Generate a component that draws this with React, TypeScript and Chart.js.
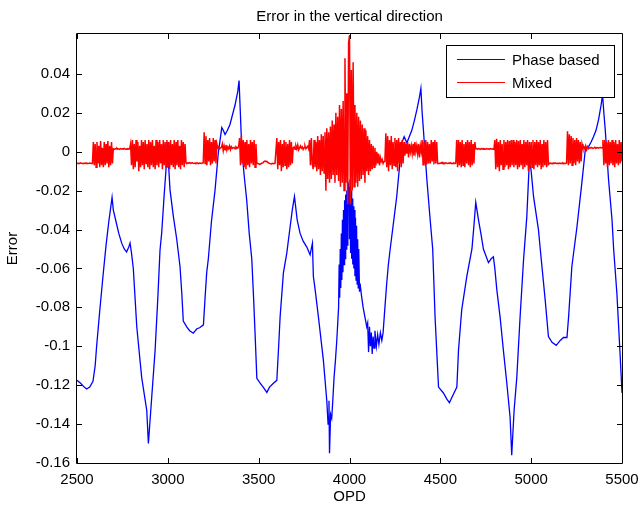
import React, { useEffect, useRef } from "react";
import { Chart, registerables } from "chart.js";

Chart.register(...registerables);

const chartTitle = "Error in the vertical direction";
const xTitle = "OPD";
const yTitle = "Error";
const seriesNames = ["Phase based", "Mixed"];
const seriesColors = ["#0000ff", "#ff0000"];

const xTickValues = [2500, 3000, 3500, 4000, 4500, 5000, 5500];
const yTickValues = [-0.16, -0.14, -0.12, -0.1, -0.08, -0.06, -0.04, -0.02, 0, 0.02, 0.04];
const xMin = 2500;
const xMax = 5500;
const yMin = -0.16;
const yMax = 0.0605;

// Phase based: [OPD, error]
const phaseBased: [number, number][] = [
  [2500, -0.1175], [2520, -0.119], [2540, -0.121], [2553, -0.122], [2570, -0.121], [2588, -0.118],
  [2600, -0.11], [2608, -0.1], [2625, -0.082], [2644, -0.063], [2660, -0.048], [2675, -0.036],
  [2693, -0.0235], [2700, -0.03], [2715, -0.036], [2730, -0.042], [2746, -0.047], [2760, -0.05],
  [2773, -0.0515], [2785, -0.049], [2792, -0.047], [2800, -0.052], [2810, -0.06], [2829, -0.09],
  [2856, -0.116], [2884, -0.133], [2893, -0.15], [2906, -0.133], [2930, -0.102], [2945, -0.075],
  [2957, -0.0505], [2966, -0.042], [2980, -0.022], [2990, -0.009], [2996, 0.005], [3003, -0.005],
  [3012, -0.0196], [3030, -0.033], [3049, -0.045], [3067, -0.059], [3077, -0.073], [3085, -0.087],
  [3104, -0.09], [3120, -0.092], [3140, -0.0933], [3160, -0.091], [3175, -0.0905], [3196, -0.089],
  [3205, -0.075], [3214, -0.062], [3223, -0.055], [3240, -0.036], [3260, -0.0196], [3278, -0.0005],
  [3297, 0.0124], [3305, 0.011], [3315, 0.0088], [3328, 0.011], [3342, 0.014], [3356, 0.019],
  [3370, 0.024], [3385, 0.031], [3392, 0.0366], [3400, 0.018], [3407, 0.001], [3420, -0.012],
  [3434, -0.0247], [3448, -0.042], [3462, -0.055], [3472, -0.075], [3480, -0.093], [3490, -0.1165],
  [3508, -0.119], [3525, -0.121], [3545, -0.1237], [3560, -0.121], [3581, -0.119], [3600, -0.1175],
  [3610, -0.1], [3618, -0.085], [3636, -0.0624], [3655, -0.052], [3673, -0.0387], [3685, -0.03],
  [3697, -0.023], [3712, -0.035], [3728, -0.042], [3745, -0.046], [3765, -0.049], [3783, -0.053],
  [3796, -0.047], [3801, -0.064], [3811, -0.071], [3829, -0.085], [3856, -0.107], [3875, -0.128],
  [3882, -0.14], [3887, -0.128], [3890, -0.155], [3896, -0.135], [3902, -0.137], [3908, -0.128],
  [3915, -0.116], [3922, -0.108], [3930, -0.097], [3940, -0.08], [3943, -0.058], [3946, -0.075],
  [3949, -0.05], [3952, -0.07], [3955, -0.042], [3958, -0.066], [3961, -0.035], [3964, -0.062],
  [3967, -0.03], [3970, -0.058], [3973, -0.025], [3976, -0.055], [3979, -0.022], [3982, -0.05],
  [3985, -0.02], [3988, -0.048], [3991, -0.018], [3997, -0.016], [4000, -0.045], [4003, -0.018],
  [4006, -0.052], [4009, -0.02], [4012, -0.055], [4015, -0.024], [4018, -0.058], [4021, -0.028],
  [4024, -0.06], [4027, -0.03], [4030, -0.064], [4033, -0.034], [4036, -0.066], [4039, -0.038],
  [4042, -0.068], [4045, -0.045], [4048, -0.07], [4051, -0.05], [4055, -0.072], [4058, -0.0677],
  [4066, -0.074], [4075, -0.08], [4085, -0.085], [4095, -0.09], [4100, -0.088], [4105, -0.103],
  [4110, -0.09], [4115, -0.1], [4120, -0.093], [4125, -0.104], [4130, -0.095], [4135, -0.101],
  [4140, -0.092], [4148, -0.1], [4155, -0.094], [4162, -0.099], [4170, -0.093], [4178, -0.097],
  [4185, -0.093], [4195, -0.08], [4205, -0.0675], [4214, -0.058], [4224, -0.05], [4242, -0.0366],
  [4260, -0.023], [4275, -0.008], [4288, 0.0046], [4301, 0.0077], [4316, 0.0046], [4330, 0.008],
  [4343, 0.011], [4357, 0.016], [4371, 0.0216], [4385, 0.028], [4393, 0.0325], [4400, 0.02],
  [4407, 0.011], [4426, -0.0144], [4444, -0.035], [4458, -0.05], [4471, -0.085], [4490, -0.121],
  [4517, -0.124], [4535, -0.127], [4550, -0.129], [4570, -0.125], [4591, -0.121], [4600, -0.102],
  [4618, -0.081], [4646, -0.064], [4674, -0.05], [4685, -0.038], [4695, -0.026], [4710, -0.035],
  [4725, -0.043], [4737, -0.05], [4765, -0.057], [4780, -0.055], [4792, -0.054], [4800, -0.06],
  [4811, -0.071], [4829, -0.085], [4847, -0.102], [4866, -0.119], [4884, -0.1365], [4893, -0.156],
  [4906, -0.133], [4921, -0.116], [4939, -0.085], [4958, -0.0557], [4976, -0.0335], [4985, -0.015],
  [4991, -0.003], [5000, -0.01], [5013, -0.023], [5040, -0.04], [5050, -0.05], [5077, -0.076],
  [5095, -0.095], [5115, -0.098], [5138, -0.0995], [5160, -0.097], [5178, -0.0955], [5197, -0.0955],
  [5206, -0.085], [5224, -0.059], [5252, -0.0387], [5279, -0.016], [5298, 0.001], [5316, 0.0026],
  [5330, 0.005], [5343, 0.0077], [5357, 0.011], [5371, 0.0165], [5385, 0.024], [5393, 0.0294],
  [5400, 0.02], [5408, 0.011], [5426, -0.0144], [5445, -0.035], [5454, -0.05], [5472, -0.073],
  [5490, -0.105], [5500, -0.124],
];

// Mixed: error in thousandths, sampled every 5 OPD from 2500 to 5500 (one row = 100 OPD)
const mixedStartOpd = 2500;
const mixedStepOpd = 5;
const mixedErrMilli = [
  -5.8, -6, -5.9, -6, -5.7, -6, -6.1, -5.9, -6, -5.8, -6, -5.9, -6.1, -6, -5.8, -5.9, -6, -6, 5, -7,
  4, -8, 5, -6, 3, -8, 5.5, -7, 2, -8, 5, -7, 4, -6, 5.5, -8, 3, -7, 5, -6,
  1.5, 1.2, 1.6, 1.4, 1.8, 1.3, 1.5, 1.2, 1.6, 1.4, 1.5, 1.3, 1.7, 1.4, 1.2, 1.5, 1.6, 1.3, 1.5, 4,
  -7, 6, -9, 4, -8, 6, -5, 5, -10, 3, -8, 6, -7, 5, -9, 6, -6, 4, -8, 6,
  -9, 5, -7, 6, -8, 3, -9, 6, -7, 5, -8, 6, -6, 4, -9, 6, -7, 5, -8, 6,
  -8, 5, -9, 6, -7, 4, -8, 6, -9, 5, -7, 6, -8, 3, -9, 6, -7, 5, -8, 4,
  -5.8, -6, -5.7, -5.9, -5.6, -6, -5.8, -5.7, -5.9, -6, -5.8, -6, -5.7, -5.9, -6.1, -5.8, -5.9, -6, -5.8, -5.7,
  10, -6, 8, -7, 6, -5, 7, -7, 5, -6, 7, -5, 6, -6, 4, 2, 2.5, 1.5, 2, 2.2,
  4, 0.5, 3, 1, 3.5, 0.8, 2.5, 1.5, 3, 1, 2.5, 1.8, 2, 2.2, 1.5, 2.5, 2, 1.8, 3, 7,
  -7, 8, -6, 6, -8, 5, -9, 6, -7, 4, -8, 6, -6, 5, -7, 6, -8, 4, -6, -6,
  -6.2, -6.5, -6.3, -6, -5.8, -5.6, -5, -4.8, -5, -4.9, -5.5, -5.8, -6, -6.2, -6.3, -6, -6.2, -6.1, -6, -6,
  7, -9, 5, -7, 6, -10, 4, -8, 6, -7, 5, -9, 4, -8, 6, -7, 5, -6, 2, 2.5,
  1.2, 3, 1.5, 3.5, 1, 2, 3, 1.8, 2.5, 1.2, 2, 3, 1.5, 2.2, 2.8, 1.5, 6, -7, 7, -6,
  -9, 6, -8, 5, -10, 8, -9, 6, -12, 9, -10, 8, -11, 10, -20, 12, -14, 10, -16, 13,
  -14, 16, -12, 14, -16, 20, -12, 18, -15, 24, -18, 22, -16, 26, -20, 48, -16, 30, -27, 56,
  60, -27, 42, -20, 46, -18, 24, -16, 20, -18, 18, -15, 16, -14, 14, -12, 12, -16, 11, -10,
  8, -12, 6, -10, 4, -9, 3, -8, 2, -7, 0, -6, -1, -7, -3, -5, -4, -6, -5, -4.5,
  9.5, -8, 8, -10, 6, -7, 8, -9, 5, -7, 7, -8, 6, -10, 7, -6, 5, -8, 6, -6,
  5, -2, 4, -1, 5, -3, 4, 0, 3, -1, 4, -2, 5, 0, 3, -1, 4, -3, 3, 0,
  6, -6.7, 5, -6, 6, -6.5, 5, -6, 4, -6, 6, -5, 5, -6.5, 6, -6, 5, -6, -6, -6,
  -5.8, -6, -5.5, -6.2, -5.8, -6, -5.7, -5.9, -6, -5.8, -6, -5.7, -6.1, -5.9, -6, -5.8, -6, -5.9, 6, -8,
  6, -7, 5, -8, 6, -7, 4, -8, 5, -6, 6, -7, 5, -8, 6, -7, 4, -6, 5, 1.5,
  1.5, 1.3, 1.6, 1.4, 1.2, 1.5, 1.6, 1.3, 1.5, 1.4, 1.3, 1.6, 1.4, 1.5, 1.2, 1.6, 1.4, 1.5, 1.3, 1.4,
  6, -9, 6.7, -8, 5, -10, 6, -7, 4, -9, 6, -8, 5, -7, 6, -9, 5.5, -8, 6, -7,
  6, -8, 5, -7, 6, -9, 5.5, -8, 6, -7, 4, -9, 6, -8, 5, -7, 6, -10, 5, -8,
  5, -8, 6, -9, 5, -7, 6, -8, 5, -7, 6, -9, 4, -8, 6, -7, 5, -8, 6, -6.5,
  -6, -5.8, -6.1, -5.9, -6, -5.7, -6, -5.8, -6, -5.9, -6.1, -5.8, -6, -5.9, -6, -5.8, -6.1, -5.9, -6, -5.8,
  10.5, -7, 9, -6, 8, -7, 7, -6, 6, -7, 7, -5, 6, -6, 5, -5, 4, 2, 2.5, 1.5,
  3, 1, 2.5, 1.5, 2, 1.8, 2.2, 2, 1.8, 2, 2.3, 1.7, 2, 2.1, 1.8, 2, 2.2, 1.9, 2, 6,
  -7, 6, -6, 5, -8, 6, -7, 5, -6, 6, -7, 5, -8, 6, -6, 4, -7, 6, -6, 5,
  -5,
];

const FONT = '"Liberation Sans", Arial, Helvetica, sans-serif';
const FONT_SIZE = 15;

const frameAndLegend = {
  id: "frameAndLegend",
  afterDatasetsDraw(chart: any) {
    const { ctx, chartArea } = chart;
    const { left, right, top, bottom } = chartArea;
    const xs = chart.scales.x;
    const ys = chart.scales.y;
    ctx.save();
    ctx.strokeStyle = "#000";
    ctx.lineWidth = 1;
    ctx.beginPath();
    ctx.rect(Math.round(left) - 0.5, Math.round(top) - 0.5, Math.round(right - left) + 1, Math.round(bottom - top) + 1);
    ctx.stroke();
    const tl = 5;
    ctx.beginPath();
    xs.ticks.forEach((t: any) => {
      const px = Math.round(xs.getPixelForValue(t.value)) + 0.5;
      ctx.moveTo(px, bottom);
      ctx.lineTo(px, bottom - tl);
      ctx.moveTo(px, top);
      ctx.lineTo(px, top + tl);
    });
    ys.ticks.forEach((t: any) => {
      const py = Math.round(ys.getPixelForValue(t.value)) + 0.5;
      ctx.moveTo(left, py);
      ctx.lineTo(left + tl, py);
      ctx.moveTo(right, py);
      ctx.lineTo(right - tl, py);
    });
    ctx.stroke();
    ctx.restore();
  },
  afterDraw(chart: any) {
    const { ctx, chartArea } = chart;
    const { right, top } = chartArea;
    const bx = right - 176;
    const by = top + 11;
    const bw = 168;
    const bh = 52;
    ctx.save();
    ctx.fillStyle = "#fff";
    ctx.fillRect(bx, by, bw, bh);
    ctx.strokeStyle = "#000";
    ctx.lineWidth = 1;
    ctx.strokeRect(bx + 0.5, by + 0.5, bw, bh);
    ctx.font = `${FONT_SIZE}px ${FONT}`;
    ctx.textBaseline = "middle";
    ctx.textAlign = "left";
    seriesNames.forEach((name, i) => {
      const ly = by + 14.5 + i * 23;
      ctx.strokeStyle = seriesColors[i];
      ctx.lineWidth = 1;
      ctx.beginPath();
      ctx.moveTo(bx + 11, ly);
      ctx.lineTo(bx + 59, ly);
      ctx.stroke();
      ctx.fillStyle = "#000";
      ctx.fillText(name, bx + 66, ly + 1);
    });
    ctx.restore();
  },
};

export default function App() {
  const canvasRef = useRef<HTMLCanvasElement | null>(null);

  useEffect(() => {
    if (!canvasRef.current) return;
    Chart.defaults.font.family = FONT;
    Chart.defaults.font.size = FONT_SIZE;
    Chart.defaults.color = "#000";

    const phaseData = phaseBased.map(([x, y]) => ({ x, y }));
    const mixedData = mixedErrMilli.map((v, i) => ({ x: mixedStartOpd + i * mixedStepOpd, y: v / 1000 }));

    const chart = new Chart(canvasRef.current, {
      type: "line",
      data: {
        datasets: [
          {
            label: seriesNames[1],
            data: mixedData,
            borderColor: seriesColors[1],
            borderWidth: 1.5,
            pointRadius: 0,
            tension: 0,
            order: 0,
          },
          {
            label: seriesNames[0],
            data: phaseData,
            borderColor: seriesColors[0],
            borderWidth: 1.3,
            pointRadius: 0,
            tension: 0,
            order: 1,
          },
        ],
      },
      options: {
        animation: false,
        responsive: false,
        devicePixelRatio: 1,
        layout: { padding: { left: 0, right: 19, top: 0, bottom: 0 } },
        plugins: {
          legend: { display: false },
          tooltip: { enabled: false },
          title: {
            display: true,
            text: chartTitle,
            fullSize: false,
            color: "#000",
            font: { size: FONT_SIZE, weight: "normal" },
            padding: { top: 8, bottom: 8 },
          },
        },
        scales: {
          x: {
            type: "linear",
            min: xMin,
            max: xMax,
            grid: { display: false, drawTicks: false },
            border: { display: false },
            afterBuildTicks: (scale: any) => {
              scale.ticks = xTickValues.map((v) => ({ value: v }));
            },
            afterFit: (scale: any) => {
              scale.height = 45;
              scale.paddingLeft = 0;
              scale.paddingRight = 0;
            },
            ticks: {
              padding: 8,
              maxRotation: 0,
              autoSkip: false,
              color: "#000",
              callback: (v: any) => String(v),
            },
            title: {
              display: true,
              text: xTitle,
              color: "#000",
              padding: { top: 0, bottom: 2 },
            },
          },
          y: {
            type: "linear",
            min: yMin,
            max: yMax,
            grid: { display: false, drawTicks: false },
            border: { display: false },
            afterBuildTicks: (scale: any) => {
              scale.ticks = yTickValues.map((v) => ({ value: v }));
            },
            afterFit: (scale: any) => {
              scale.width = 77;
              scale.paddingTop = 0;
              scale.paddingBottom = 0;
            },
            ticks: {
              padding: 7,
              autoSkip: false,
              color: "#000",
              callback: (v: any) => String(Number(Number(v).toFixed(2))),
            },
            title: {
              display: true,
              text: yTitle,
              color: "#000",
              padding: { top: 4, bottom: 0 },
            },
          },
        },
      },
      plugins: [frameAndLegend],
    } as any);

    return () => chart.destroy();
  }, []);

  return (
    <div style={{ position: "fixed", left: 0, top: 0, width: 641, height: 508, background: "#fff" }}>
      <canvas ref={canvasRef} width={641} height={508} style={{ width: 641, height: 508, display: "block" }} />
    </div>
  );
}
